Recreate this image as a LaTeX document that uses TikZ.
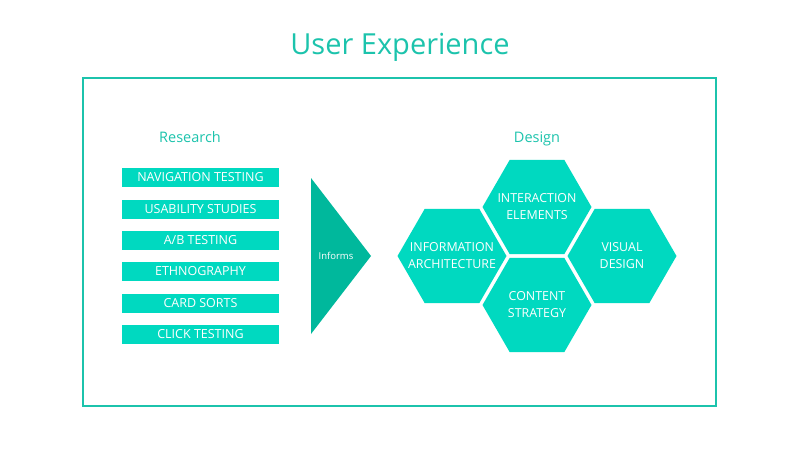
\documentclass[tikz,border=0pt]{standalone}
\usepackage{fontspec}
\setmainfont{Open Sans}
\usepackage{tikz}
\usetikzlibrary{positioning,shapes.geometric}

\definecolor{uxteal}{HTML}{1CC3AC}
\definecolor{uxfill}{HTML}{00D9C0}
\definecolor{uxdark}{HTML}{00B89C}

\begin{document}
\begin{tikzpicture}[x=1pt, y=-1pt,
			method/.style={fill=uxfill, text=white, minimum width=157pt, minimum height=19pt, inner sep=0pt, font=\fontsize{12.5}{13}\selectfont},
			hexa/.style={regular polygon, regular polygon sides=6, fill=uxfill, text=white, minimum size=109pt, inner sep=-20pt, align=center, font=\fontsize{12.4}{17}\selectfont},
			heading/.style={text=uxteal, text height=0.75em, text depth=0.25em, font=\fontsize{14.5}{16}\selectfont},
		]
		\useasboundingbox (0,0) rectangle (800,450);

		\node[text=uxteal, font=\fontsize{29}{32}\selectfont] (title) at (400,47) {User Experience};
		\draw[uxteal, line width=2.5pt] (83,78) rectangle (716,406);

		\node[heading] (research) at (190,140) {Research};
		\node[heading] (design)   at (537,140) {Design};

		\node[method] (nav)  at (200.5,177) {NAVIGATION TESTING};
		\node[method] (usa)  at (200.5,209) {USABILITY STUDIES};
		\node[method] (ab)   at (200.5,240) {A/B TESTING};
		\node[method] (eth)  at (200.5,271) {ETHNOGRAPHY};
		\node[method] (card) at (200.5,303) {CARD SORTS};
		\node[method] (clk)  at (200.5,334) {CLICK TESTING};

		\fill[uxdark] (311,178) -- (371,256) -- (311,334) -- cycle;
		\node[text=white, font=\fontsize{9.5}{11}\selectfont] (informs) at (336,256) {Informs};

		\node[hexa] (info)   at (452,256) {INFORMATION\\ARCHITECTURE};
		\node[hexa] (inter)  at (537,207) {INTERACTION\\ELEMENTS};
		\node[hexa] (cont)   at (537,305) {CONTENT\\STRATEGY};
		\node[hexa] (visual) at (622,256) {VISUAL\\DESIGN};

		\end{tikzpicture}
\end{document}
